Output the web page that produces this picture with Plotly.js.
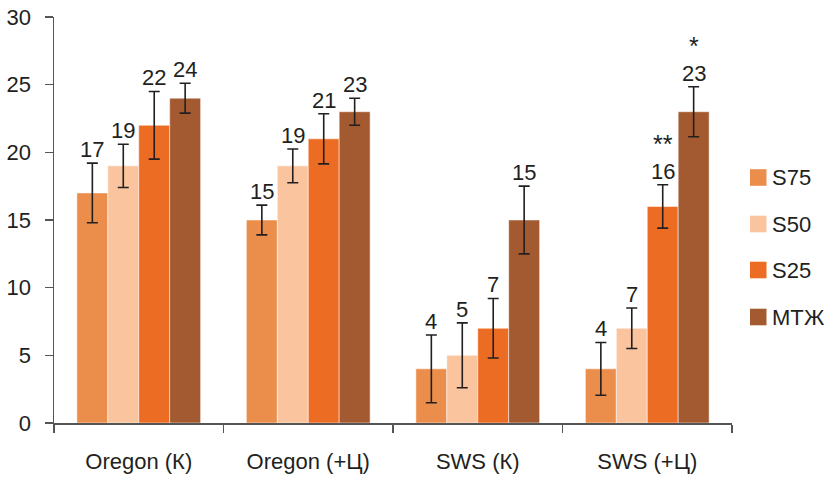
<!DOCTYPE html>
<html>
<head>
<meta charset="utf-8">
<script src="https://cdn.plot.ly/plotly-3.0.1.min.js"></script>
<style>html,body{margin:0;padding:0;background:#fff;}#chart{width:826px;height:478px;}</style>
</head>
<body>
<div id="chart"></div>
<script>
const categories = ["Oregon (К)", "Oregon (+Ц)", "SWS (К)", "SWS (+Ц)"];
const seriesNames = ["S75", "S50", "S25", "МТЖ"];
const s75 = [17, 15, 4, 4];
const s50 = [19, 19, 5, 7];
const s25 = [22, 21, 7, 16];
const mtzh = [24, 23, 15, 23];
const s75Err = [2.2, 1.1, 2.5, 1.95];
const s50Err = [1.6, 1.25, 2.4, 1.5];
const s25Err = [2.5, 1.85, 2.2, 1.6];
const mtzhErr = [1.1, 1.0, 2.5, 1.85];
// significance marks: [series index, category index, text]
const marks = [[2, 3, "**"], [3, 3, "*"]];

const colors = ["#EB8D4B", "#FAC59E", "#EC6C24", "#A45A30"];
const values = [s75, s50, s25, mtzh];
const errs = [s75Err, s50Err, s25Err, mtzhErr];
const txtColor = "#231f20";
const fontFam = "'Liberation Sans', Arial, sans-serif";
const fs = 22;

const W = 826, H = 478;
const M = {l: 54, r: 94, t: 17, b: 55};
const plotW = W - M.l - M.r, plotH = H - M.t - M.b;
const pxX = px => (px - M.l) / plotW;
const pxY = py => (H - M.b - py) / plotH;

const traces = values.map((v, i) => ({
  type: "bar",
  name: seriesNames[i],
  x: categories,
  y: v,
  marker: {color: colors[i], line: {color: "#ffffff", width: 0.5}},
  error_y: {type: "data", array: errs[i], visible: true, color: txtColor, thickness: 1.6, width: 5.5},
  hoverinfo: "none",
  showlegend: false
}));

const nS = values.length;
const bargap = 0.27;
const groupW = 1 - bargap;
const barW = groupW / nS;
const annotations = [];
values.forEach((v, i) => {
  v.forEach((val, j) => {
    const xPos = j - groupW / 2 + barW * (i + 0.5);
    annotations.push({
      x: xPos, y: val + errs[i][j], xref: "x", yref: "y",
      text: String(val), showarrow: false, yanchor: "bottom", yshift: -1,
      font: {size: fs, color: txtColor, family: fontFam}
    });
  });
});
marks.forEach(m => {
  const [i, j, t] = m;
  const xPos = j - groupW / 2 + barW * (i + 0.5);
  annotations.push({
    x: xPos, y: values[i][j] + errs[i][j], xref: "x", yref: "y",
    text: t, showarrow: false, yanchor: "bottom", yshift: 25,
    font: {size: 25, color: txtColor, family: fontFam}
  });
});

// manual legend (square + label) at the right of the plot
const shapes = [];
const legendRows = [177.5, 224, 270, 317];
seriesNames.forEach((nm, i) => {
  const cy = legendRows[i];
  shapes.push({
    type: "rect", xref: "paper", yref: "paper",
    x0: pxX(750), x1: pxX(766.5), y0: pxY(cy + 8.3), y1: pxY(cy - 8.3),
    fillcolor: colors[i], line: {width: 0}
  });
  annotations.push({
    x: pxX(770), y: pxY(cy), xref: "paper", yref: "paper",
    text: nm, showarrow: false, xanchor: "left", yanchor: "middle",
    font: {size: fs, color: txtColor, family: fontFam}
  });
});

const layout = {
  width: W, height: H,
  margin: M,
  paper_bgcolor: "#ffffff", plot_bgcolor: "#ffffff",
  barmode: "group", bargap: bargap, bargroupgap: 0,
  font: {family: fontFam, size: fs, color: txtColor},
  showlegend: false,
  xaxis: {
    type: "category", showgrid: false, zeroline: false,
    showline: true, linecolor: "#555555", linewidth: 1.5,
    ticks: "outside", tickson: "boundaries", ticklen: 8, tickcolor: "#555555", tickwidth: 1.5,
    ticklabelstandoff: 18,
    tickfont: {size: fs, color: txtColor, family: fontFam}
  },
  yaxis: {
    range: [0, 30], tickvals: [0, 5, 10, 15, 20, 25, 30], showgrid: false, zeroline: false,
    showline: true, linecolor: "#555555", linewidth: 1.5,
    ticks: "outside", ticklen: 8, tickcolor: "#555555", tickwidth: 1.5,
    ticklabelstandoff: 9,
    tickfont: {size: fs, color: txtColor, family: fontFam}
  },
  shapes: shapes,
  annotations: annotations
};

Plotly.newPlot("chart", traces, layout, {staticPlot: true, displayModeBar: false});
</script>
</body>
</html>
